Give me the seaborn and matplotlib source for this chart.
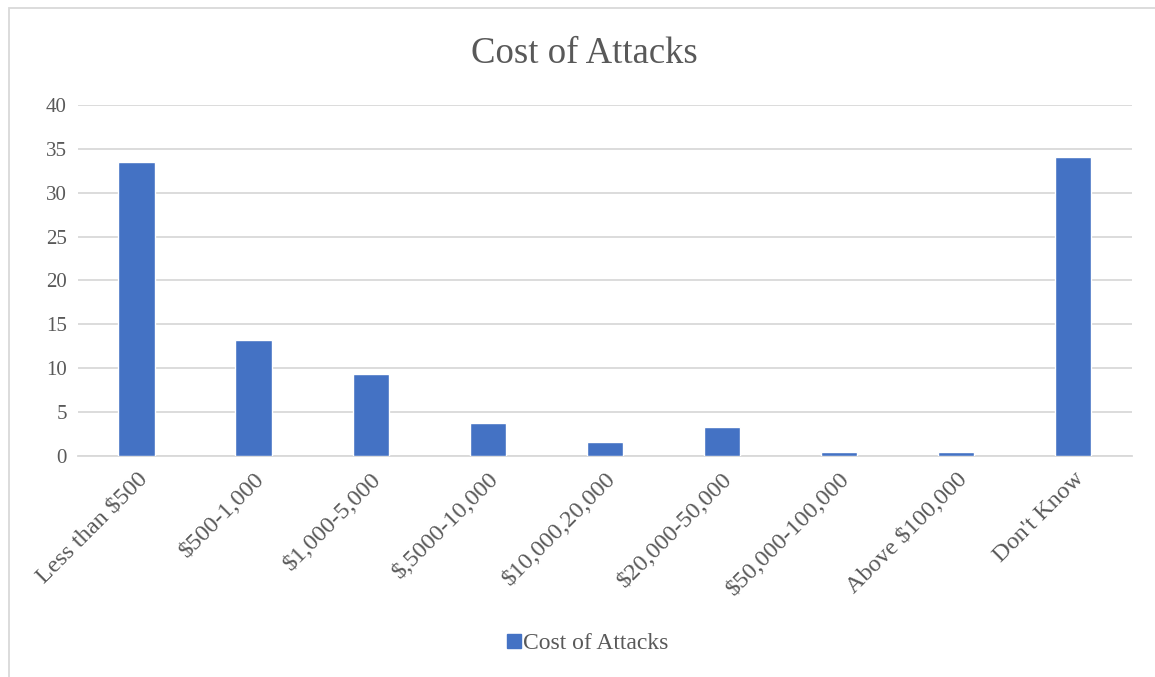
import matplotlib
matplotlib.use("Agg")
import matplotlib.pyplot as plt
import seaborn as sns
import pandas as pd
from matplotlib.lines import Line2D
from matplotlib.patches import Rectangle

categories = ["Less than $500", "$500-1,000", "$1,000-5,000", "$,5000-10,000",
              "$10,000,20,000", "$20,000-50,000", "$50,000-100,000",
              "Above $100,000", "Don't Know"]
values = [33.5, 13.2, 9.3, 3.8, 1.6, 3.3, 0.5, 0.5, 34.1]
series_name = "Cost of Attacks"
yticks = [0, 5, 10, 15, 20, 25, 30, 35, 40]

sns.set_theme(style="white")
plt.rcParams['font.family'] = ['Liberation Serif', 'DejaVu Serif']

df = pd.DataFrame({"category": categories, "value": values})

fig = plt.figure(figsize=(11.55, 6.77), dpi=100)
ax = fig.add_axes([0.0675, 0.3264, 0.9125, 0.5186])

sns.barplot(data=df, x="category", y="value", color="#4472C4", width=0.31,
            saturation=1, ax=ax, zorder=3)

ax.set_ylim(0, 40)
ax.set_xlim(-0.5, len(categories) - 0.5)
ax.set_yticks(yticks)
ax.set_yticklabels([str(t) for t in yticks], fontsize=15, color="#595959")
ax.yaxis.grid(True, color="#D9D9D9", linewidth=1.3, zorder=0)
ax.set_axisbelow(True)
for s in ["top", "right", "left"]:
    ax.spines[s].set_visible(False)
ax.spines["bottom"].set_color("#D9D9D9")
ax.spines["bottom"].set_linewidth(1.3)
ax.tick_params(axis="y", length=0, pad=8)
ax.set_xticks(range(len(categories)))
ax.set_xticklabels(categories, rotation=45, ha="right", rotation_mode="anchor",
                   fontsize=17.5, color="#595959")
ax.tick_params(axis="x", length=0, pad=9)
ax.set_xlabel("")
ax.set_ylabel("")

fig.text(0.506, 0.921, "Cost of Attacks", ha="center", va="center",
         fontsize=26.5, color="#595959")

handle = Line2D([], [], marker="s", linestyle="none", markersize=10,
                markerfacecolor="#4472C4", markeredgecolor="#4472C4")
fig.legend([handle], [series_name], loc="center", bbox_to_anchor=(0.508, 0.05),
           frameon=False, fontsize=17, handletextpad=0.0, labelcolor="#595959",
           handlelength=0.8)

fig.patches.append(Rectangle((0.008, -0.1), 1.2, 0.1 + 0.9875, transform=fig.transFigure,
                             fill=False, edgecolor="#D9D9D9", linewidth=1.3))

fig.savefig("out.png", dpi=100)
